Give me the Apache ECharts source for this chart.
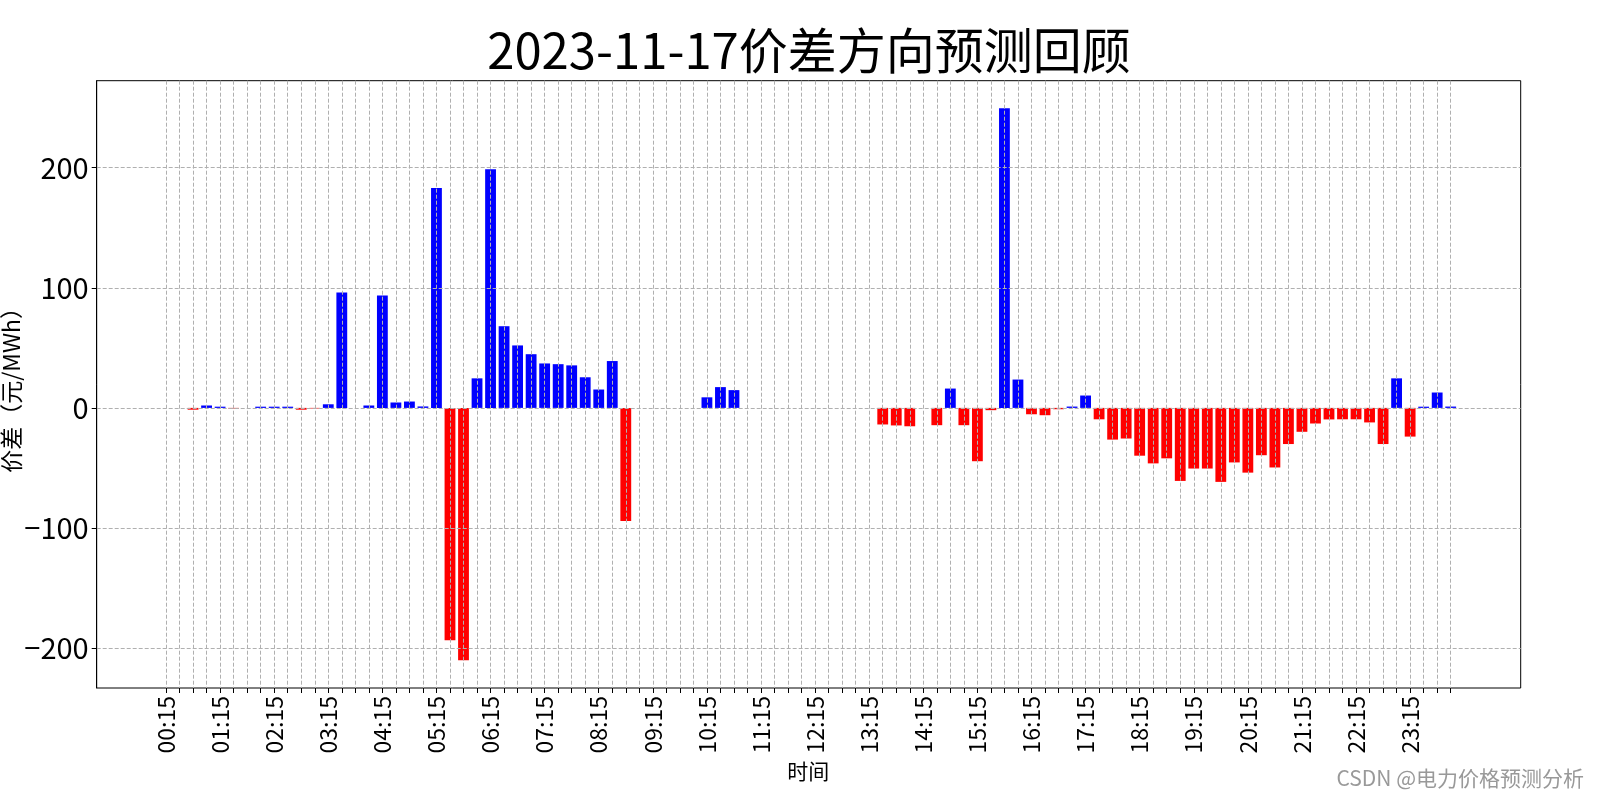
<!DOCTYPE html>
<html>
<head>
<meta charset="utf-8">
<script src="https://cdn.jsdelivr.net/npm/echarts@6/dist/echarts.min.js"></script>
<style>
html,body{margin:0;padding:0;background:#fff;}
#chart{width:1600px;height:800px;}
</style>
</head>
<body>
<div id="chart"></div>
<script>
const titleText = '2023-11-17价差方向预测回顾';
const xName = '时间';
const yName = '价差（元/MWh）';
const watermark = 'CSDN @电力价格预测分析';

const categories = [
 '00:15','00:30','00:45','01:00','01:15','01:30','01:45','02:00',
 '02:15','02:30','02:45','03:00','03:15','03:30','03:45','04:00',
 '04:15','04:30','04:45','05:00','05:15','05:30','05:45','06:00',
 '06:15','06:30','06:45','07:00','07:15','07:30','07:45','08:00',
 '08:15','08:30','08:45','09:00','09:15','09:30','09:45','10:00',
 '10:15','10:30','10:45','11:00','11:15','11:30','11:45','12:00',
 '12:15','12:30','12:45','13:00','13:15','13:30','13:45','14:00',
 '14:15','14:30','14:45','15:00','15:15','15:30','15:45','16:00',
 '16:15','16:30','16:45','17:00','17:15','17:30','17:45','18:00',
 '18:15','18:30','18:45','19:00','19:15','19:30','19:45','20:00',
 '20:15','20:30','20:45','21:00','21:15','21:30','21:45','22:00',
 '22:15','22:30','22:45','23:00','23:15','23:30','23:45','24:00'
];

const priceDiff = [
 0, 0, -1.5, 2, 1, -0.5, 0, 1,
 1, 1, -1.5, -0.5, 3, 96, 0, 2,
 93.5, 4.5, 5.3, 1.2, 183, -193.5, -210.2, 24.6,
 198.7, 68, 52, 44.7, 37, 36.4, 35.4, 25.5,
 15.3, 39, -94.1, 0, 0, 0, 0, 0,
 8.8, 17.3, 14.8, 0, 0, 0, 0, 0,
 0, 0, 0, 0, 0, -13.8, -14.6, -15.3,
 0, -14.4, 16.1, -14.4, -44.4, -1.9, 249.4, 23.6,
 -5.3, -6.1, -1.1, 1.1, 10.3, -9.5, -26.4, -25.5,
 -39.8, -46.2, -42, -60.8, -50.5, -50.5, -61.6, -45.4,
 -53.9, -39.4, -49.6, -30.1, -19.9, -13, -9.6, -9.5,
 -9.5, -12.1, -30.1, 24.6, -23.9, 1, 12.8, 1.1
];

const yTicks = [-200, -100, 0, 100, 200];
const yMin = -233.2, yMax = 272.4;

const FONT = '"Noto Sans CJK SC", "Noto Sans", sans-serif';
const gridLine = { show: true, lineStyle: { color: '#b0b0b0', width: 1, type: [4, 2] } };

const chart = echarts.init(document.getElementById('chart'), null, { renderer: 'canvas' });
chart.setOption({
  backgroundColor: '#fff',
  animation: false,
  title: {
    text: titleText,
    left: 804,
    textAlign: 'center',
    top: 21,
    textStyle: { fontFamily: FONT, fontSize: 49, fontWeight: 'normal', color: '#000' }
  },
  graphic: [{
    type: 'text',
    right: 16,
    top: 768,
    style: { text: watermark, fontFamily: FONT, fontSize: 21, fill: '#999' }
  }],
  grid: [
    { left: 96.7, right: 79.3, top: 80.7, bottom: 112, containLabel: false, outerBoundsMode: 'none',
      show: true, borderColor: '#000', borderWidth: 1, backgroundColor: 'transparent' },
    { left: 166, right: 149.3, top: 80.7, bottom: 112, containLabel: false, outerBoundsMode: 'none' }
  ],
  xAxis: [
    { gridIndex: 0, type: 'value', min: 0, max: 1, show: false },
    {
      gridIndex: 1, type: 'category', data: categories, boundaryGap: false, z: 3, position: 'bottom',
      axisLine: { show: false, onZero: false },
      axisTick: { show: true, interval: 0, length: 5, lineStyle: { color: '#000', width: 1 } },
      axisLabel: { interval: 3, rotate: 90, fontSize: 23, margin: 8, color: '#000', fontFamily: FONT },
      splitLine: Object.assign({ interval: 0 }, gridLine),
      name: xName, nameLocation: 'middle', nameGap: 73, nameMoveOverlap: false,
      nameTextStyle: { fontFamily: FONT, fontSize: 21, color: '#000' }
    }
  ],
  yAxis: [
    {
      gridIndex: 0, type: 'value', min: yMin, max: yMax, z: 3,
      axisLine: { show: true, onZero: false, lineStyle: { color: '#000', width: 1 } },
      axisTick: { show: true, length: 5, customValues: yTicks, lineStyle: { color: '#000', width: 1 } },
      axisLabel: { customValues: yTicks, fontSize: 29, margin: 8, color: '#000', fontFamily: FONT,
        formatter: v => String(v).replace('-', '\u2212') },
      splitLine: gridLine,
      name: yName, nameLocation: 'middle', nameGap: 74, nameRotate: 90, nameMoveOverlap: false,
      nameTextStyle: { fontFamily: FONT, fontSize: 23, color: '#000' }
    },
    { gridIndex: 1, type: 'value', min: yMin, max: yMax, show: false, splitLine: { show: false } }
  ],
  series: [{
    type: 'bar',
    xAxisIndex: 1, yAxisIndex: 1,
    data: priceDiff,
    barWidth: '80%',
    clip: false,
    itemStyle: { color: p => (p.value > 0 ? '#0000ff' : (p.value < 0 ? '#ff0000' : 'rgba(0,0,0,0)')) }
  }]
});
</script>
</body>
</html>
